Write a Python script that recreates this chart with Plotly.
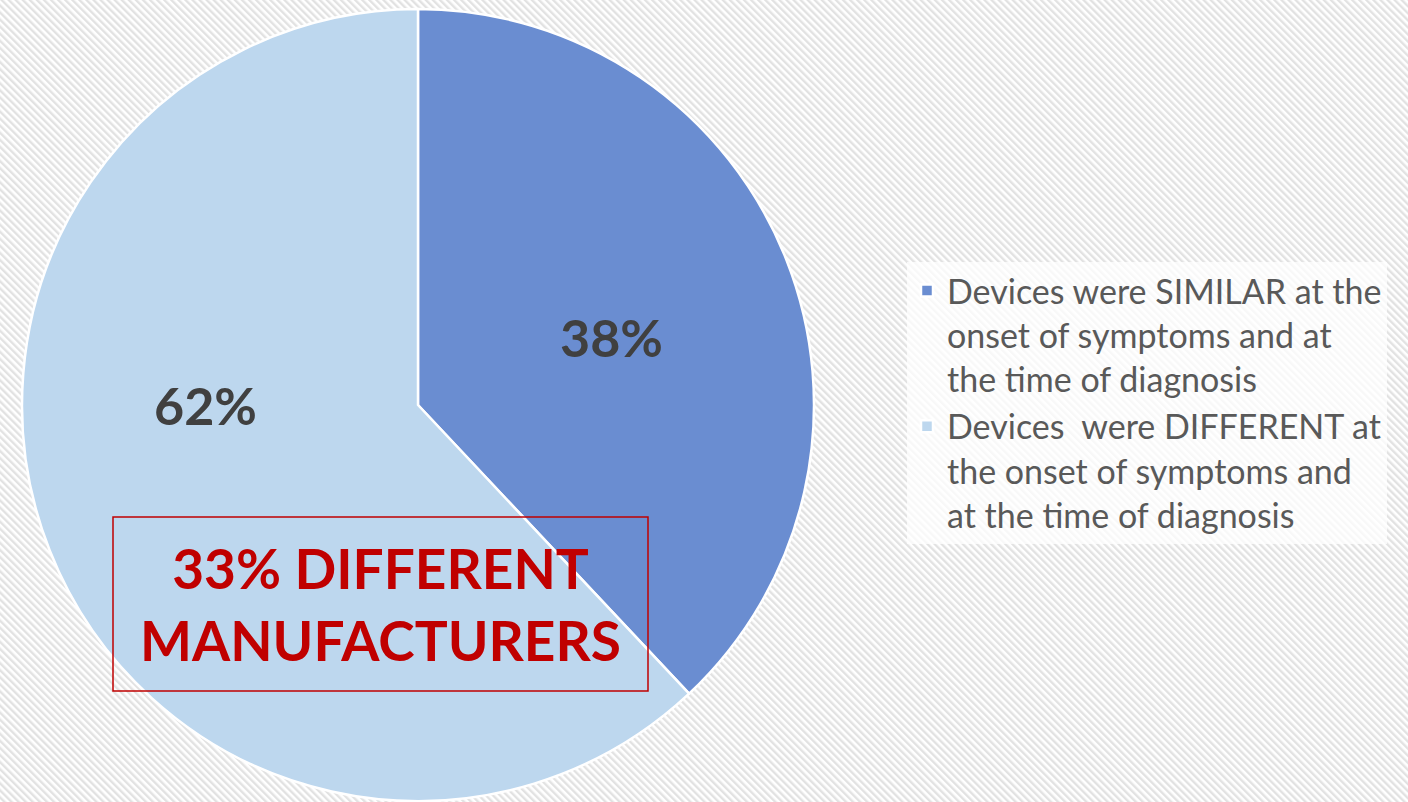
import base64
import plotly.graph_objects as go

# ---- data ----
labels = [
    "Devices were SIMILAR at the<br>onset of symptoms and at<br>the time of diagnosis",
    "Devices  were DIFFERENT at<br>the onset of symptoms and<br>at the time of diagnosis",
]
values = [38, 62]
colors = ["#6A8DD1", "#BDD7EE"]
callout_text = "33% DIFFERENT<br>MANUFACTURERS"

W, H = 1408, 802

# hatched background as an SVG pattern
svg = f'''<svg xmlns="http://www.w3.org/2000/svg" width="{W}" height="{H}">
<defs><pattern id="p" width="5" height="5" patternUnits="userSpaceOnUse" patternTransform="rotate(-45)">
<rect width="5" height="5" fill="#FFFFFF"/><rect width="2.4" height="5" fill="#E2E2E2"/></pattern></defs>
<rect width="{W}" height="{H}" fill="url(#p)"/></svg>'''
bg_src = "data:image/svg+xml;base64," + base64.b64encode(svg.encode()).decode()

fig = go.Figure(
    go.Pie(
        labels=labels,
        values=values,
        sort=False,
        direction="clockwise",
        rotation=0,
        marker=dict(colors=colors, line=dict(color="white", width=2.5)),
        textinfo="none",
        domain=dict(x=[22 / W, 814 / W], y=[1 / H, 793 / H]),
        hoverinfo="label+percent",
    )
)

# percentage labels (text from data)
total = sum(values)
label_pos = [(611, 337), (205, 405)]
for v, (px, py) in zip(values, label_pos):
    fig.add_annotation(
        text=f"{round(v / total * 100)}%", xref="paper", yref="paper",
        x=px / W, y=(H - py) / H, xanchor="center", yanchor="middle",
        showarrow=False,
        font=dict(family="Lato", size=52, color="#404040", weight="bold"),
    )

fig.add_shape(
    type="rect", xref="paper", yref="paper",
    x0=113 / W, x1=648 / W, y0=(H - 691) / H, y1=(H - 517) / H,
    line=dict(color="#C00000", width=1.5), fillcolor="rgba(0,0,0,0)",
)
fig.add_annotation(
    text=callout_text, xref="paper", yref="paper",
    x=380 / W, y=(H - 604) / H, xanchor="center", yanchor="middle",
    showarrow=False, align="center",
    font=dict(family="Lato", size=55, color="#C00000", weight="bold"),
)

fig.update_layout(
    width=W, height=H,
    margin=dict(l=0, r=0, t=0, b=0),
    paper_bgcolor="white",
    showlegend=True,
    legend=dict(
        x=907 / W, y=(H - 262) / H, xanchor="left", yanchor="top",
        bgcolor="rgba(255,255,255,0.75)",
        font=dict(family="Lato", size=34, color="#595959"),
        itemwidth=30, valign="top",
    ),
    images=[dict(source=bg_src, xref="paper", yref="paper", x=0, y=1,
                 sizex=1, sizey=1, sizing="stretch", layer="below")],
)

fig.write_html("out.html")
